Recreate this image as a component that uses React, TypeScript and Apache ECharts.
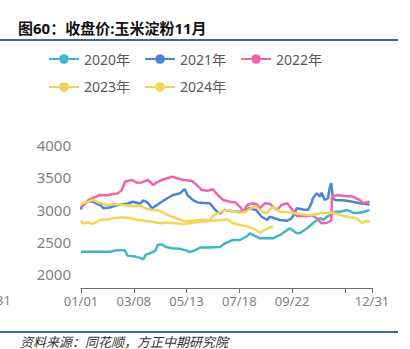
import React, { useEffect, useRef } from "react";
import * as echarts from "echarts";

const seriesNames = ["2020年", "2021年", "2022年", "2023年", "2024年"];
const seriesColors = ["#41B6C9", "#4A84D6", "#F064A8", "#F3D45A", "#F5D658"];

// [day of year (0 = 01/01), closing price]
const y2020 = [
  [0, 2345], [36, 2345], [46, 2370], [55, 2370], [58, 2285], [68, 2270], [74, 2250], [78, 2225],
  [81, 2300], [86, 2320], [93, 2360], [96, 2450], [101, 2460], [106, 2420], [114, 2400], [124, 2390],
  [133, 2360], [136, 2340], [141, 2360], [149, 2410], [161, 2410], [174, 2420], [180, 2476],
  [190, 2527], [199, 2527], [208, 2589], [211, 2631], [218, 2589], [224, 2554], [233, 2554],
  [240, 2554], [249, 2605], [258, 2682], [261, 2709], [270, 2631], [274, 2636], [283, 2709],
  [290, 2786], [299, 2868], [303, 2837], [308, 2891], [314, 2930], [318, 2966], [324, 2966],
  [333, 2992], [340, 2950], [346, 2946], [353, 2961], [361, 2995],
];
const y2021 = [
  [0, 3000], [1, 3050], [8, 3130], [15, 3120], [24, 3070], [28, 3020], [36, 3030], [45, 3070],
  [58, 3090], [65, 3120], [74, 3090], [78, 3140], [83, 3110], [89, 3020], [95, 3070], [101, 3120],
  [108, 3174], [115, 3225], [124, 3251], [128, 3302], [130, 3313], [133, 3225], [140, 3147],
  [146, 3110], [155, 3100], [161, 3096], [170, 2966], [174, 2941], [180, 2992], [186, 2980],
  [190, 2970], [199, 2960], [211, 3019], [219, 2990], [226, 2888], [233, 2837], [236, 2890],
  [243, 2860], [249, 2837], [258, 2826], [264, 2870], [270, 3019], [278, 3000], [284, 2992],
  [289, 3120], [290, 3174], [295, 3251], [299, 3200], [301, 3260], [305, 3147], [309, 3174],
  [311, 3329], [313, 3410], [314, 3300], [315, 3180], [318, 3147], [330, 3140], [340, 3120],
  [349, 3096], [358, 3080], [361, 3075],
];
const y2022 = [
  [0, 3043], [3, 3070], [9, 3140], [15, 3180], [24, 3225], [33, 3220], [40, 3240], [46, 3250],
  [51, 3300], [55, 3431], [64, 3457], [70, 3416], [76, 3420], [84, 3457], [90, 3380], [95, 3420],
  [101, 3457], [108, 3484], [114, 3509], [120, 3484], [128, 3457], [136, 3450], [139, 3440],
  [145, 3380], [151, 3302], [158, 3290], [165, 3313], [171, 3225], [178, 3147], [186, 3120],
  [193, 3110], [199, 3040], [203, 2966], [208, 3070], [214, 3096], [220, 3080], [224, 3020],
  [230, 3096], [236, 3090], [245, 2992], [251, 3070], [258, 3096], [264, 3000], [270, 2899],
  [276, 2900], [284, 2899], [289, 2910], [295, 2863], [301, 2786], [308, 2795], [313, 2830],
  [314, 3198], [320, 3225], [330, 3210], [340, 3200], [349, 3147], [353, 3096], [356, 3110],
  [361, 3120],
];
const y2023 = [
  [0, 3085], [8, 3120], [15, 3147], [24, 3100], [33, 3070], [43, 3085], [53, 3070], [65, 3054],
  [74, 3060], [80, 3019], [89, 2992], [96, 2992], [103, 2950], [111, 2899], [120, 2863],
  [128, 2826], [136, 2820], [149, 2837], [161, 2840], [165, 2900], [174, 2961], [183, 2992],
  [190, 2970], [199, 2950], [205, 2960], [214, 3030], [218, 3054], [224, 2990], [228, 2960],
  [233, 2941], [236, 3000], [240, 3043], [245, 3000], [249, 2966], [258, 2960], [265, 2950],
  [274, 2930], [283, 2915], [290, 2915], [299, 2941], [308, 2950], [315, 2950], [321, 2930],
  [328, 2899], [336, 2880], [345, 2863], [351, 2795], [356, 2820], [361, 2811],
];
const y2024 = [
  [0, 2826], [3, 2786], [9, 2800], [15, 2775], [24, 2837], [33, 2845], [40, 2863], [53, 2879],
  [61, 2870], [70, 2840], [80, 2825], [89, 2811], [99, 2786], [108, 2800], [115, 2790],
  [128, 2775], [136, 2785], [149, 2810], [161, 2820], [174, 2835], [183, 2850], [190, 2786],
  [199, 2760], [208, 2734], [215, 2708], [220, 2671], [224, 2640], [230, 2682], [236, 2724],
  [240, 2734],
];
const seriesData = [y2020, y2021, y2022, y2023, y2024];

const yMin = 2000;
const yMax = 4000;
const yInterval = 500;
const xTickDays = [0, 66, 132, 198, 264, 330, 364];
const xLabelDays = [0, 66, 132, 198, 264, 364];
const monthStarts = [0, 31, 59, 90, 120, 151, 181, 212, 243, 273, 304, 334];

const titleText = "图60：收盘价:玉米淀粉11月";
const sourceText = "资料来源：同花顺，方正中期研究院";

const pad = (n: number) => (n < 10 ? "0" + n : "" + n);
const dayLabel = (d: number) => {
  let m = 11;
  while (monthStarts[m] > d) m--;
  return pad(m + 1) + "/" + pad(d - monthStarts[m] + 1);
};

const FONT = "'Noto Sans', 'Noto Sans CJK SC', sans-serif";

export default function App() {
  const ref = useRef<HTMLDivElement>(null);
  useEffect(() => {
    document.body.style.margin = "0";
    if (!ref.current) return;
    const chart = echarts.init(ref.current, null, { renderer: "svg" });
    chart.setOption({
      animation: false,
      backgroundColor: "#ffffff",
      textStyle: { fontFamily: FONT },
      grid: { left: 81, right: 38, top: 145, bottom: 75, containLabel: false },
      legend: {
        left: 43,
        top: 47,
        width: 300,
        itemWidth: 30,
        itemHeight: 12,
        itemGap: 14,
        data: seriesNames,
        textStyle: { color: "#595959", fontSize: 14, width: 50, fontFamily: FONT },
      },
      xAxis: {
        type: "value",
        min: 0,
        max: 364,
        offset: 14,
        splitLine: { show: false },
        axisLine: { show: true, lineStyle: { color: "#6b6b6b", width: 1 } },
        axisTick: { show: true, length: 5, customValues: xTickDays, lineStyle: { color: "#6b6b6b" } },
        axisLabel: {
          customValues: xLabelDays,
          formatter: (v: number) => dayLabel(Math.round(v)),
          color: "#7f7f7f",
          fontSize: 13,
          margin: 6,
          fontFamily: FONT,
        },
      },
      yAxis: {
        type: "value",
        min: yMin,
        max: yMax,
        interval: yInterval,
        splitLine: { show: false },
        axisLine: { show: false },
        axisTick: { show: false },
        axisLabel: {
          color: "#7f7f7f",
          fontSize: 15,
          margin: 10,
          fontFamily: FONT,
          formatter: (v: number) => String(v),
        },
      },
      series: seriesNames.map((name, i) => ({
        name,
        type: "line",
        data: seriesData[i],
        symbol: "circle",
        symbolSize: 10,
        showSymbol: false,
        color: seriesColors[i],
        lineStyle: { width: 2.5, color: seriesColors[i] },
        itemStyle: { color: seriesColors[i] },
      })),
      graphic: [
        {
          type: "text",
          left: 18,
          top: 20,
          style: { text: titleText, fontSize: 15, fontWeight: "bold", fill: "#111111", fontFamily: FONT },
        },
        {
          type: "line",
          shape: { x1: 0, y1: 40, x2: 398, y2: 40 },
          style: { stroke: "#3B6D9C", lineWidth: 2 },
        },
        {
          type: "text",
          x: 11,
          y: 300,
          style: { text: "12/31", fontSize: 13, fill: "#7f7f7f", align: "right", verticalAlign: "middle", fontFamily: FONT },
        },
        {
          type: "line",
          shape: { x1: 0, y1: 332, x2: 398, y2: 332 },
          style: { stroke: "#3B6D9C", lineWidth: 2 },
        },
        {
          type: "text",
          x: 20,
          y: 342,
          style: { text: sourceText, fontSize: 13, fontStyle: "italic", fill: "#333333", verticalAlign: "middle", fontFamily: FONT },
        },
      ],
    });
    return () => chart.dispose();
  }, []);
  return <div ref={ref} style={{ width: 410, height: 349 }} />;
}
